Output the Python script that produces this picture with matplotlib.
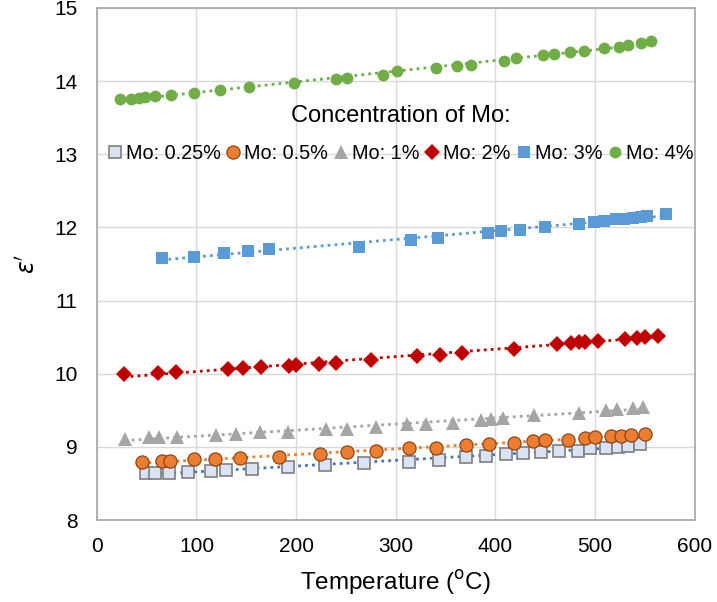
import numpy as np
import matplotlib.pyplot as plt

plt.rcParams['font.family'] = ['Liberation Sans', 'DejaVu Sans']

# Mo 0.25 %
t025 = [49, 58, 72, 92, 115, 130, 156, 192, 229, 268, 313, 343, 370, 391, 411, 428, 446, 464, 483, 495, 511, 523, 533, 545]
e025 = [8.64, 8.64, 8.65, 8.66, 8.67, 8.69, 8.70, 8.73, 8.75, 8.78, 8.80, 8.82, 8.86, 8.88, 8.90, 8.92, 8.93, 8.94, 8.95, 8.98, 8.99, 9.00, 9.01, 9.04]
# Mo 0.5 %
t05 = [45, 65, 73, 98, 119, 144, 183, 224, 251, 280, 313, 340, 370, 394, 419, 438, 450, 473, 490, 500, 516, 526, 536, 550]
e05 = [8.79, 8.81, 8.81, 8.83, 8.83, 8.85, 8.86, 8.91, 8.93, 8.94, 8.98, 8.99, 9.02, 9.04, 9.06, 9.08, 9.09, 9.10, 9.12, 9.13, 9.15, 9.15, 9.16, 9.18]
# Mo 1 %
t1 = [28, 52, 62, 80, 120, 140, 164, 192, 230, 251, 280, 311, 330, 357, 386, 396, 408, 439, 484, 511, 522, 538, 548]
e1 = [9.11, 9.13, 9.13, 9.14, 9.17, 9.18, 9.20, 9.21, 9.24, 9.25, 9.27, 9.31, 9.32, 9.33, 9.37, 9.38, 9.40, 9.43, 9.47, 9.51, 9.52, 9.53, 9.54]
# Mo 2 %
t2 = [27, 61, 79, 132, 147, 165, 193, 200, 223, 240, 275, 321, 344, 366, 419, 462, 476, 484, 490, 503, 530, 542, 550, 563]
e2 = [10.00, 10.01, 10.02, 10.07, 10.08, 10.09, 10.11, 10.12, 10.14, 10.15, 10.19, 10.24, 10.26, 10.28, 10.34, 10.40, 10.42, 10.43, 10.44, 10.45, 10.48, 10.49, 10.50, 10.52]
# Mo 3 %
t3 = [65, 98, 128, 152, 173, 263, 315, 342, 393, 406, 425, 450, 484, 499, 509, 521, 529, 538, 546, 552, 571]
e3 = [11.58, 11.60, 11.65, 11.68, 11.70, 11.73, 11.83, 11.85, 11.93, 11.95, 11.97, 12.00, 12.05, 12.08, 12.09, 12.11, 12.12, 12.13, 12.14, 12.15, 12.18]
# Mo 4 %
t4 = [23, 34, 42, 48, 58, 74, 98, 124, 153, 198, 240, 251, 287, 301, 340, 361, 375, 409, 421, 448, 459, 475, 489, 509, 524, 533, 546, 556]
e4 = [13.75, 13.76, 13.77, 13.78, 13.80, 13.81, 13.84, 13.88, 13.92, 13.97, 14.03, 14.04, 14.08, 14.13, 14.18, 14.20, 14.22, 14.27, 14.31, 14.35, 14.37, 14.40, 14.41, 14.45, 14.46, 14.49, 14.52, 14.55]

series = [
    ('Mo: 0.25%', t025, e025, dict(marker='s', ms=9, mfc='#DAE3F3', mec='#7F7F7F', mew=1.2), '#4472C4'),
    ('Mo: 0.5%', t05, e05, dict(marker='o', ms=9.5, mfc='#ED7D31', mec='#843C0C', mew=0.8), '#ED7D31'),
    ('Mo: 1%', t1, e1, dict(marker='^', ms=10, mfc='#A5A5A5', mec='#A5A5A5', mew=0), '#A5A5A5'),
    ('Mo: 2%', t2, e2, dict(marker='D', ms=8, mfc='#C00000', mec='#C00000', mew=0), '#C00000'),
    ('Mo: 3%', t3, e3, dict(marker='s', ms=9, mfc='#5B9BD5', mec='#5B9BD5', mew=0), '#5B9BD5'),
    ('Mo: 4%', t4, e4, dict(marker='o', ms=8.5, mfc='#70AD47', mec='#70AD47', mew=0), '#70AD47'),
]

fig = plt.figure(figsize=(7.17, 6.02), dpi=100)
ax = fig.add_axes([0.135, 0.136, 0.834, 0.851])

for label, t, e, mk, lc in series:
    # linear trendline, dotted
    k, b = np.polyfit(t, e, 1)
    tt = np.array([min(t), max(t)])
    ax.plot(tt, k * tt + b, linestyle=(0, (1, 1.5)), color=lc, lw=2, zorder=2)
    ax.plot(t, e, linestyle='none', label=label, zorder=3, **mk)

ax.set_xlim(0, 600)
ax.set_ylim(8, 15)
ax.set_xticks(range(0, 601, 100))
ax.set_yticks(range(8, 16))
ax.grid(True, color='#D9D9D9', lw=1)
ax.set_axisbelow(True)
ax.tick_params(length=0, labelsize=15, colors='#000000')
ax.tick_params(axis='x', pad=12)
ax.tick_params(axis='y', pad=14)
for s in ax.spines.values():
    s.set_color('#A6A6A6')
    s.set_linewidth(1.2)

ax.set_xlabel('Temperature ($^{\\mathrm{o}}$C)', fontsize=17.5, labelpad=9)
ax.set_ylabel("$\\varepsilon'$", fontsize=17, labelpad=10)

leg = ax.legend(loc='upper center', bbox_to_anchor=(0.508, 0.825), ncol=6, frameon=False,
                title='Concentration of Mo:', title_fontsize=17, fontsize=14.3,
                handlelength=0.7, handletextpad=0.2, columnspacing=0.3, borderaxespad=0)
leg._legend_box.sep = 12

fig.savefig('out.png', dpi=100)
